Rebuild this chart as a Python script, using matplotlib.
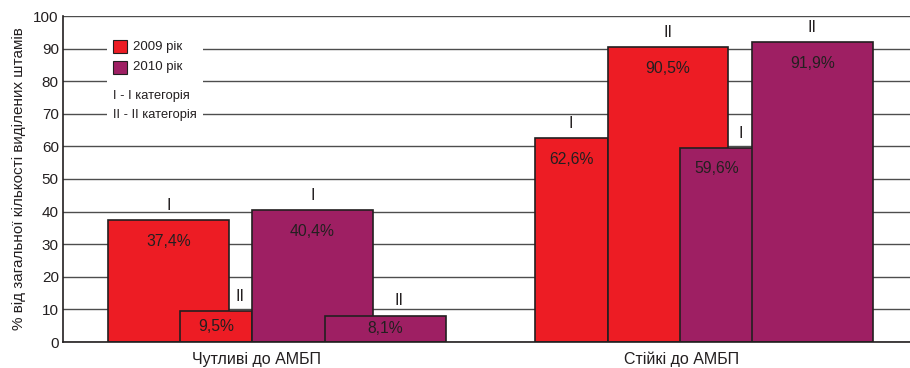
import matplotlib.pyplot as plt
from matplotlib.patches import Rectangle

plt.rcParams['font.family'] = ['Liberation Sans', 'DejaVu Sans']

categories = ['Чутливі до АМБП', 'Стійкі до АМБП']
years = ['2009 рік', '2010 рік']
grades = ['I', 'II']
# values per category group: [I категорія, II категорія]
sensitive_2009 = [37.4, 9.5]
sensitive_2010 = [40.4, 8.1]
resistant_2009 = [62.6, 90.5]
resistant_2010 = [59.6, 91.9]

colors = ['#ED1C24', '#9E1F63']
edge = '#231F20'
text_c = '#231F20'

# bar layout in "wide bar" units (one wide bar = 1.0)
bar_left = [0.372, 0.967, 1.562, 2.165, 3.90, 4.504, 5.099, 5.694]
bar_width = [1.0, 0.595, 1.0, 1.0, 0.6, 0.99, 0.6, 1.0]
grade_shift = [0.0, 0.2, 0.0, 0.11, 0.0, 0.0, 0.2, 0.0]
cat_pos = [1.60, 5.11]

values = sensitive_2009 + sensitive_2010 + resistant_2009 + resistant_2010
bar_year = [0, 0, 1, 1, 0, 0, 1, 1]
bar_grade = [0, 1, 0, 1, 0, 1, 0, 1]

fig = plt.figure(figsize=(9.10, 3.68), dpi=100)
ax = fig.add_axes([63 / 910, 1 - 342 / 368, 1 - 63 / 910, (342 - 16) / 368])

for i, v in enumerate(values):
    ax.bar(bar_left[i], v, width=bar_width[i], align='edge',
           color=colors[bar_year[i]], edgecolor=edge, linewidth=1.2, zorder=2)
    cx = bar_left[i] + bar_width[i] / 2
    ax.text(cx + grade_shift[i], v + 4.5, grades[bar_grade[i]],
            ha='center', va='center', fontsize=11.5, color=text_c, zorder=4)
    ty = v - 6.5 if v > 20 else v / 2
    ax.text(cx, ty, f'{v:.1f}%'.replace('.', ','), ha='center', va='center',
            fontsize=11.3, color=text_c, zorder=4)

ax.set_xlim(0, 7.0)
ax.set_ylim(0, 100)
ax.set_yticks(range(0, 101, 10))
ax.set_xticks(cat_pos)
ax.set_xticklabels(categories, fontsize=11.5, color=text_c)
ax.tick_params(axis='both', length=0, colors=text_c)
ax.tick_params(axis='y', labelsize=11, pad=3)
ax.tick_params(axis='x', pad=7)
ax.yaxis.grid(True, color='#4d4d4d', linewidth=1.0, zorder=0)
ax.set_axisbelow(True)
for s in ['top', 'right']:
    ax.spines[s].set_visible(False)
for s in ['left', 'bottom']:
    ax.spines[s].set_color(edge)
    ax.spines[s].set_linewidth(1.2)
ax.set_ylabel('% від загальної кількості виділених штамів', fontsize=11,
              color=text_c, labelpad=5)

# legend block with white background over the grid
ax.add_patch(Rectangle((0.36, 69), 0.80, 22.5, facecolor='white',
                       edgecolor='none', zorder=3))
for k, name in enumerate(years):
    y = 90.5 - k * 6.2
    ax.add_patch(Rectangle((0.41, y - 2.0), 0.115, 4.0, facecolor=colors[k],
                           edgecolor=edge, linewidth=0.8, zorder=4))
    ax.text(0.58, y, name, ha='left', va='center', fontsize=9.5,
            color=text_c, zorder=4)
ax.text(0.41, 75.5, 'I - I категорія', ha='left', va='center', fontsize=9.3,
        color=text_c, zorder=4)
ax.text(0.41, 69.5, 'II - II категорія', ha='left', va='center', fontsize=9.3,
        color=text_c, zorder=4)

fig.savefig('out.png', dpi=100)
